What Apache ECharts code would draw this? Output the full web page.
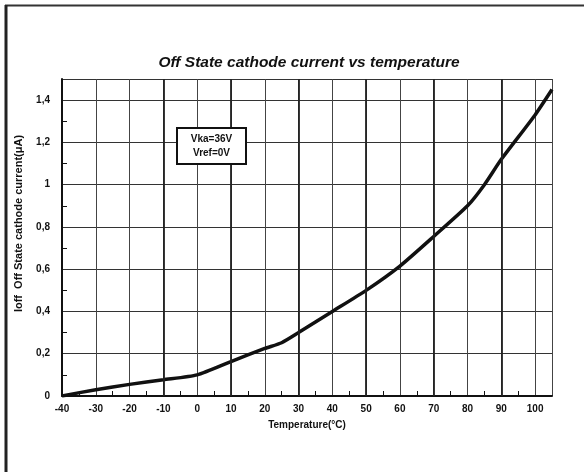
<!DOCTYPE html>
<html>
<head>
<meta charset="utf-8">
<script src="https://cdn.jsdelivr.net/npm/echarts@6/dist/echarts.min.js"></script>
<style>html,body{margin:0;padding:0;background:#fff}#c{width:584px;height:472px}</style>
</head>
<body>
<div id="c"></div>
<script>
var temperature = [-40, -30, -20, -10, 0, 10, 20, 25, 30, 40, 50, 60, 70, 80, 85, 90, 100, 105];
var ioff = [0, 0.03, 0.055, 0.077, 0.1, 0.163, 0.225, 0.252, 0.3, 0.4, 0.5, 0.615, 0.755, 0.9, 1.0, 1.12, 1.33, 1.45];
var thickGrid = [-10, 10, 30, 50, 70, 90];
var titleText = 'Off State cathode current vs temperature';
var noteLines = ['Vka=36V', 'Vref=0V'];

var chart = echarts.init(document.getElementById('c'));
var font = 'Liberation Sans, Arial, sans-serif';
var pts = temperature.map(function (t, i) { return [t, ioff[i]]; });
chart.setOption({
  animation: false,
  title: {
    text: titleText, left: 304, top: 50, textAlign: 'center',
    textStyle: { fontFamily: font, fontSize: 15.5, fontWeight: 'bold', fontStyle: 'italic', color: '#111' }
  },
  grid: { left: 62, right: 32, top: 79, bottom: 76 },
  xAxis: {
    type: 'value', min: -40, max: 105, interval: 10,
    name: 'Temperature(°C)', nameLocation: 'middle', nameGap: 24,
    nameTextStyle: { fontFamily: font, fontSize: 10, fontWeight: 'bold', color: '#111' },
    axisLine: { onZero: false, lineStyle: { color: '#111', width: 2 } },
    axisTick: { show: false },
    minorTick: { show: true, splitNumber: 2, length: -5, lineStyle: { color: '#111', width: 1 } },
    axisLabel: { fontFamily: font, fontSize: 10, fontWeight: 'bold', color: '#111', margin: 8, showMaxLabel: false,
      formatter: function (v) { return v > 100 ? '' : String(v); } },
    splitLine: { show: true, lineStyle: { color: '#444', width: 1 } }
  },
  yAxis: {
    type: 'value', min: 0, max: 1.5, interval: 0.2,
    name: 'Ioff  Off State cathode current(\u03bcA)', nameLocation: 'middle', nameGap: 38, nameRotate: 90,
    nameTextStyle: { fontFamily: font, fontSize: 11, fontWeight: 'bold', color: '#111', padding: [0, 0, 0, 28] },
    axisLine: { show: true, onZero: false, lineStyle: { color: '#111', width: 2 } },
    axisTick: { show: false },
    minorTick: { show: true, splitNumber: 2, length: -5, lineStyle: { color: '#111', width: 1 } },
    axisLabel: { fontFamily: font, fontSize: 10, fontWeight: 'bold', color: '#111', margin: 12, showMaxLabel: false,
      formatter: function (v) { return v > 1.45 ? '' : String(Math.round(v * 10) / 10).replace('.', ','); } },
    splitLine: { show: true, lineStyle: { color: '#333', width: 1 } }
  },
  series: [{
    type: 'line', data: pts, showSymbol: false, smooth: 0.2,
    lineStyle: { color: '#111', width: 3.5 },
    markLine: {
      silent: true, symbol: 'none', label: { show: false },
      lineStyle: { color: '#222', width: 1.8, type: 'solid' },
      data: thickGrid.map(function (v) { return { xAxis: v }; })
    }
  }],
  graphic: [
    { type: 'line', shape: { x1: 5, y1: 5.5, x2: 584, y2: 5.5 }, style: { stroke: '#333', lineWidth: 2 } },
    { type: 'line', shape: { x1: 6, y1: 5, x2: 6, y2: 472 }, style: { stroke: '#222', lineWidth: 3 } },
    { type: 'rect', shape: { x: 177, y: 128, width: 69, height: 36 }, style: { fill: '#fff', stroke: '#111', lineWidth: 2 }, z: 100 },
    { type: 'text', x: 211.5, y: 146, z: 101, style: { text: noteLines.join('\n'), align: 'center', verticalAlign: 'middle',
      fontFamily: font, fontSize: 10, fontWeight: 'bold', fill: '#111', lineHeight: 14 } }
  ]
});
</script>
</body>
</html>
